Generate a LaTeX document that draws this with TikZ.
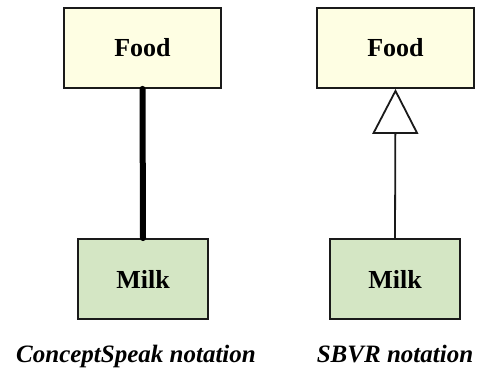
\documentclass[tikz,border=0pt]{standalone}
\usepackage{fontspec}
\setmainfont{Liberation Serif}
\usetikzlibrary{arrows.meta}
\definecolor{foodfill}{HTML}{FEFEE3}
\definecolor{milkfill}{HTML}{D4E6C4}
\definecolor{edge}{HTML}{1A1A1A}
\tikzset{
  concept/.style={draw=edge, line width=1.8pt, minimum height=80pt, inner sep=0pt,
    font=\fontsize{26}{30}\selectfont\bfseries},
  genus/.style={concept, fill=foodfill, minimum width=157pt},
  species/.style={concept, fill=milkfill, minimum width=130pt},
  caption/.style={anchor=base, inner sep=0pt, font=\fontsize{25}{30}\selectfont\bfseries\itshape},
  csline/.style={line width=6pt, line cap=round},
  sbvrline/.style={draw=edge, line width=1.8pt, -{Triangle[open, length=45pt, width=46pt, line width=1.8pt]}}
}
\begin{document}
\begin{tikzpicture}[x=1pt,y=1pt]
  \useasboundingbox (0,0) rectangle (495,377);
  % ConceptSpeak: plain thick link
  \node[genus]   (lfood) at (142.5,329) {Food};
  \node[species] (lmilk) at (143,98) {Milk};
  \draw[csline] (lmilk.north) -- (lfood.south);
  \node[caption] (lcap) at (136,14) {ConceptSpeak notation};
  % SBVR: generalization arrow
  \node[genus]   (rfood) at (395.5,329) {Food};
  \node[species] (rmilk) at (395,98) {Milk};
  \draw[sbvrline] (rmilk.north) -- (rfood.south);
  \node[caption] (rcap) at (395,14) {SBVR notation};
\end{tikzpicture}
\end{document}
